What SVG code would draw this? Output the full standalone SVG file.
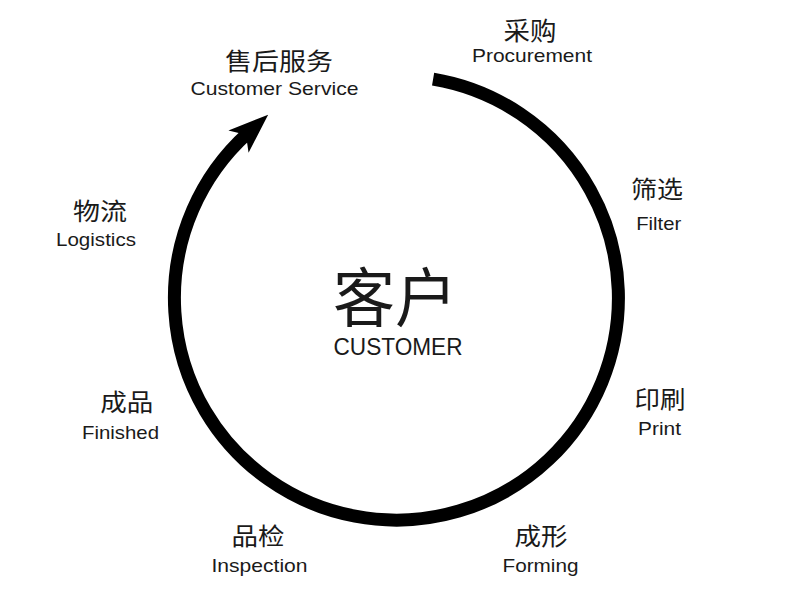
<svg xmlns="http://www.w3.org/2000/svg" width="803" height="596" viewBox="0 0 803 596">
<style>
.zh{font-family:"Noto Sans CJK SC","Noto Sans",sans-serif;font-size:24px;fill:#1a1a1a;text-anchor:middle}
.en{font-family:"Liberation Sans",Arial,sans-serif;font-size:18.5px;fill:#1a1a1a;text-anchor:middle}
.ring{fill:none;stroke:#000;stroke-width:13}
</style>
<defs>
<marker id="head" markerUnits="userSpaceOnUse" markerWidth="50" markerHeight="40" viewBox="-45 -20 50 40" refX="-28" refY="0" orient="auto" overflow="visible">
<path d="M0,0 L-40,-15 L-30,0 L-40,15 Z" fill="#000"/>
</marker>
</defs>
<rect width="803" height="596" fill="#fff"/>
<g id="connectors">
<path class="ring" d="M433.1,79.1 A222,222 0 1 1 247.4,133.5" marker-end="url(#head)"/>
</g>
<g id="customer">
<text class="zh" x="395" y="320.5" style="font-size:64px" textLength="124" lengthAdjust="spacingAndGlyphs">客户</text>
<text class="en" x="398" y="355" style="font-size:24.5px" textLength="129" lengthAdjust="spacingAndGlyphs">CUSTOMER</text>
</g>
<g id="procurement">
<text class="zh" x="530" y="40" style="font-size:25px" textLength="53" lengthAdjust="spacingAndGlyphs">采购</text>
<text class="en" x="532" y="62" textLength="120" lengthAdjust="spacingAndGlyphs">Procurement</text>
</g>
<g id="service">
<text class="zh" x="279" y="69.5" textLength="108" lengthAdjust="spacingAndGlyphs">售后服务</text>
<text class="en" x="274.5" y="95" textLength="168" lengthAdjust="spacingAndGlyphs">Customer Service</text>
</g>
<g id="filter">
<text class="zh" x="657" y="198" textLength="52" lengthAdjust="spacingAndGlyphs">筛选</text>
<text class="en" x="658.7" y="230" textLength="45" lengthAdjust="spacingAndGlyphs">Filter</text>
</g>
<g id="logistics">
<text class="zh" x="100" y="219.5" textLength="54" lengthAdjust="spacingAndGlyphs">物流</text>
<text class="en" x="96" y="246" textLength="80" lengthAdjust="spacingAndGlyphs">Logistics</text>
</g>
<g id="print">
<text class="zh" x="660" y="408" textLength="51" lengthAdjust="spacingAndGlyphs">印刷</text>
<text class="en" x="659.5" y="435" textLength="43" lengthAdjust="spacingAndGlyphs">Print</text>
</g>
<g id="finished">
<text class="zh" x="126.7" y="411" textLength="53" lengthAdjust="spacingAndGlyphs">成品</text>
<text class="en" x="120.5" y="439" textLength="77" lengthAdjust="spacingAndGlyphs">Finished</text>
</g>
<g id="inspection">
<text class="zh" x="258" y="545" textLength="53" lengthAdjust="spacingAndGlyphs">品检</text>
<text class="en" x="259.5" y="572" textLength="96" lengthAdjust="spacingAndGlyphs">Inspection</text>
</g>
<g id="forming">
<text class="zh" x="541" y="545" textLength="53" lengthAdjust="spacingAndGlyphs">成形</text>
<text class="en" x="540.5" y="572" textLength="76" lengthAdjust="spacingAndGlyphs">Forming</text>
</g>
</svg>
